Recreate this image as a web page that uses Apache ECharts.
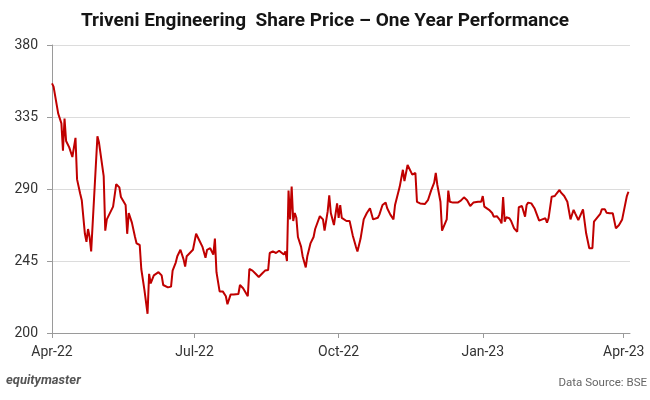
<!DOCTYPE html>
<html>
<head>
<meta charset="utf-8">
<script src="https://cdn.jsdelivr.net/npm/echarts@6/dist/echarts.min.js"></script>
<style>
html,body{margin:0;padding:0;background:#fff;}
#chart{width:650px;height:400px;}
</style>
</head>
<body>
<div id="chart"></div>
<script>
var dates = [
'2022-04-01','2022-04-02','2022-04-05','2022-04-07','2022-04-08','2022-04-09','2022-04-10','2022-04-12','2022-04-14','2022-04-15',
'2022-04-16','2022-04-17','2022-04-19','2022-04-20','2022-04-21','2022-04-22','2022-04-23','2022-04-24','2022-04-25','2022-04-26',
'2022-04-30','2022-05-01','2022-05-04','2022-05-05','2022-05-06','2022-05-10','2022-05-12','2022-05-14','2022-05-15','2022-05-18',
'2022-05-19','2022-05-20','2022-05-21','2022-05-22','2022-05-24','2022-05-25','2022-05-27','2022-05-28','2022-05-30','2022-06-01',
'2022-06-02','2022-06-03','2022-06-04','2022-06-05','2022-06-06','2022-06-08','2022-06-10','2022-06-11','2022-06-14','2022-06-16',
'2022-06-17','2022-06-19','2022-06-20','2022-06-22','2022-06-24','2022-06-25','2022-06-26','2022-06-28','2022-06-30','2022-07-02',
'2022-07-04','2022-07-06','2022-07-08','2022-07-09','2022-07-11','2022-07-12','2022-07-13','2022-07-14','2022-07-15','2022-07-17',
'2022-07-19','2022-07-21','2022-07-22','2022-07-24','2022-07-26','2022-07-29','2022-07-30','2022-08-01','2022-08-04','2022-08-05',
'2022-08-07','2022-08-09','2022-08-11','2022-08-13','2022-08-15','2022-08-17','2022-08-18','2022-08-20','2022-08-22','2022-08-24',
'2022-08-25','2022-08-27','2022-08-28','2022-08-29','2022-08-30','2022-08-31','2022-09-01','2022-09-02','2022-09-03','2022-09-04',
'2022-09-05','2022-09-07','2022-09-08','2022-09-10','2022-09-11','2022-09-13','2022-09-15','2022-09-16','2022-09-19','2022-09-21',
'2022-09-22','2022-09-24','2022-09-25','2022-09-26','2022-09-28','2022-09-30','2022-10-01','2022-10-02','2022-10-03','2022-10-04',
'2022-10-06','2022-10-08','2022-10-10','2022-10-12','2022-10-13','2022-10-15','2022-10-17','2022-10-19','2022-10-21','2022-10-23',
'2022-10-26','2022-10-27','2022-10-29','2022-10-31','2022-11-01','2022-11-03','2022-11-05','2022-11-06','2022-11-09','2022-11-11',
'2022-11-12','2022-11-14','2022-11-16','2022-11-17','2022-11-19','2022-11-20','2022-11-22','2022-11-25','2022-11-27','2022-11-29',
'2022-12-01','2022-12-02','2022-12-03','2022-12-05','2022-12-06','2022-12-09','2022-12-10','2022-12-11','2022-12-13','2022-12-16',
'2022-12-18','2022-12-20','2022-12-22','2022-12-24','2022-12-26','2022-12-29','2022-12-31','2023-01-01','2023-01-02','2023-01-05',
'2023-01-07','2023-01-08','2023-01-10','2023-01-12','2023-01-13','2023-01-14','2023-01-15','2023-01-16','2023-01-18','2023-01-19',
'2023-01-21','2023-01-23','2023-01-24','2023-01-26','2023-01-27','2023-01-28','2023-01-29','2023-01-30','2023-02-01','2023-02-03',
'2023-02-06','2023-02-08','2023-02-10','2023-02-11','2023-02-12','2023-02-14','2023-02-16','2023-02-17','2023-02-19','2023-02-20',
'2023-02-22','2023-02-24','2023-02-25','2023-02-26','2023-02-28','2023-03-01','2023-03-03','2023-03-06','2023-03-08','2023-03-10',
'2023-03-12','2023-03-13','2023-03-14','2023-03-17','2023-03-18','2023-03-20','2023-03-21','2023-03-23','2023-03-25','2023-03-27',
'2023-03-29','2023-03-31','2023-04-03','2023-04-04'
];
var prices = [
356,354,337,331,314,334,320,316,310,309,
322,296,287,283,284,262,257,265,260,251,
323,319,298,264,271,279,293,291,285,280,
262,275,274,269,260,256,255,240,227,212,
237,231,231,236,236,238,236,230,228.5,229,
239,244,248,252,246,241.5,248,250,252,262,
258,254,247,252,253,252,249,259,238,226,
226,223,218,224,224,224.4,230,228,223,240,
239,237,235,237,239,239.4,250,251,250,251.4,
251,249,251,245,289,271,291.5,270,275,272,
260,254,248,241,248,256,260,265,273,271,
264,276,286,275,267.5,281,272,280,272,273,
270,270,261,254,251,259,271,275,278,271,
272,274,280,281.5,278,274,271,280,291.5,302,
295,305,301,299,300,282,281,280.6,283,289,
294,300,292.5,282,264,271,289,282,281.5,281.5,
282.7,284.8,283,279.4,281.5,282,282,285.6,279,277,
275,272.7,273,270.6,268.5,285,269.6,272.3,271.7,270.2,
265.4,263.3,278.6,279.4,279.6,272.7,280,281.5,281,278,
270.2,271,271.7,269,271.7,285.2,285.6,287,289.4,287.7,
285.6,282,281.5,271,277,274.8,270.6,277.3,262.3,253,
253,269.6,270.6,274.4,277.3,277.3,275.2,274.8,274.8,265.4,
267.5,271,285.6,288.3
];
var yTicks = [200, 245, 290, 335, 380];
var xTickDates = ['2022-04-01','2022-07-01','2022-10-01','2023-01-01','2023-04-01'];
var monthNames = ['Jan','Feb','Mar','Apr','May','Jun','Jul','Aug','Sep','Oct','Nov','Dec'];

function toTime(s) {
  var p = s.split('-');
  return Date.UTC(+p[0], +p[1] - 1, +p[2]);
}
var seriesData = dates.map(function (d, i) { return [toTime(d), prices[i]]; });
var xTicks = xTickDates.map(toTime);

var chart = echarts.init(document.getElementById('chart'), null, {renderer: 'canvas'});
chart.setOption({
  animation: false,
  backgroundColor: '#ffffff',
  title: {
    text: 'Triveni Engineering  Share Price \u2013 One Year Performance',
    left: 'center',
    top: 7,
    textStyle: {fontFamily: 'Roboto', fontWeight: 'bold', fontSize: 19, color: '#151515'}
  },
  grid: {left: 52, right: 20, top: 45, bottom: 67, containLabel: false},
  xAxis: {
    type: 'value',
    min: toTime('2022-04-01'),
    max: toTime('2023-04-05'),
    axisLine: {show: true, lineStyle: {color: '#9a9a9a', width: 1}},
    axisTick: {show: true, length: 5, customValues: xTicks, lineStyle: {color: '#9a9a9a'}},
    axisLabel: {
      customValues: xTicks,
      margin: 12,
      fontFamily: 'Roboto',
      fontSize: 14,
      color: '#333',
      showMinLabel: true,
      showMaxLabel: true,
      formatter: function (v) {
        var d = new Date(v);
        return monthNames[d.getUTCMonth()] + '-' + String(d.getUTCFullYear()).slice(2);
      }
    },
    splitLine: {show: false}
  },
  yAxis: {
    type: 'value',
    min: 200,
    max: 380,
    interval: 45,
    axisLine: {show: true, lineStyle: {color: '#9a9a9a', width: 1}},
    axisTick: {show: true, length: 5, lineStyle: {color: '#9a9a9a'}},
    axisLabel: {
      margin: 14,
      fontFamily: 'Roboto',
      fontSize: 14,
      color: '#333'
    },
    splitLine: {show: true, lineStyle: {color: '#dcdcdc', width: 1}}
  },
  series: [{
    type: 'line',
    data: seriesData,
    showSymbol: false,
    symbol: 'none',
    lineStyle: {color: '#c00000', width: 2},
    itemStyle: {color: '#c00000'}
  }],
  graphic: [
    {
      type: 'text', left: 6, top: 374,
      style: {text: 'equitymaster', font: 'italic bold 13px Roboto', fill: '#555'}
    },
    {
      type: 'text', right: 3, top: 377,
      style: {text: 'Data Source: BSE', font: '11.5px Roboto', fill: '#666'}
    }
  ]
});
</script>
</body>
</html>
